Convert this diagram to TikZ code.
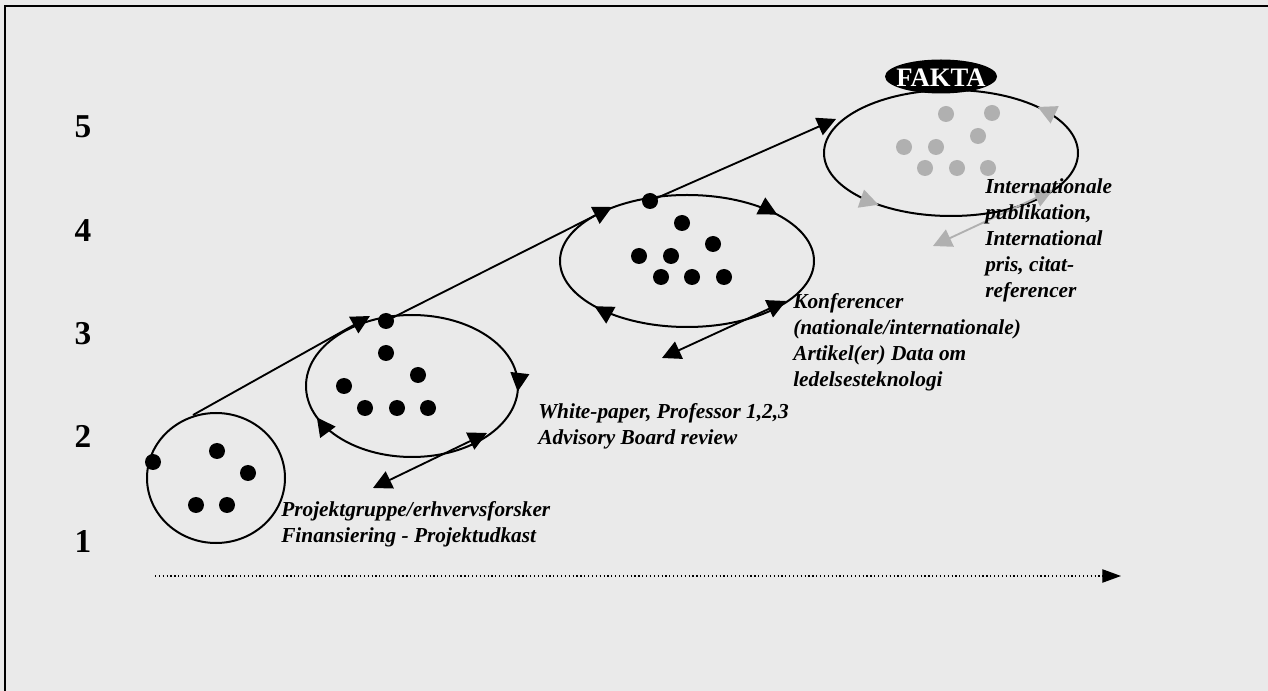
\documentclass[tikz,border=0pt]{standalone}
\usepackage{fontspec}
\setmainfont{Liberation Serif}
\usetikzlibrary{arrows.meta,shapes.geometric,decorations.markings}
\definecolor{bg}{HTML}{EAEAEA}
\definecolor{lgray}{HTML}{B0B0B0}
\begin{document}
\begin{tikzpicture}[x=0.75pt,y=-0.75pt,
  bigtri/.tip={Triangle[length=14pt,width=14pt]},
  ringline/.style={line width=1.5pt},
  connline/.style={line width=1.4pt,-bigtri},
  dblline/.style={line width=1.4pt,bigtri-bigtri},
  grayline/.style={line width=1.4pt,draw=lgray,{Triangle[length=14pt,width=14pt,color=lgray]}-{Triangle[length=14pt,width=14pt,color=lgray]}},
  bdot/.style={circle,fill=black,inner sep=0pt,minimum size=12pt},
  gdot/.style={circle,fill=lgray,inner sep=0pt,minimum size=12pt},
  lvl/.style={font=\fontsize{25}{28}\selectfont\bfseries,anchor=base,inner sep=0pt},
  lbl/.style={font=\fontsize{16}{19.5}\selectfont\bfseries\itshape,align=left,anchor=base west,inner sep=0pt},
]
% background and frame
\fill[bg] (0,0) rectangle (1268,691);
\useasboundingbox (0,0) rectangle (1268,691);
\draw[line width=1.5pt] (5,691) -- (5,6) -- (1268,6);

% level numbers
\node[lvl] (n5) at (83,138) {5};
\node[lvl] (n4) at (83,242) {4};
\node[lvl] (n3) at (83,345) {3};
\node[lvl] (n2) at (83,448) {2};
\node[lvl] (n1) at (83,552) {1};

% ring centres
\coordinate (e1) at (216,478);
\coordinate (e2) at (412,386);
\coordinate (e3) at (687,261);
\coordinate (e4) at (951,153);

% ring 1
\draw[ringline] (e1) ellipse [x radius=69, y radius=65];
\node[bdot] (a0) at (153,462) {};
\node[bdot] (a1) at (217,451) {};
\node[bdot] (a2) at (248,473) {};
\node[bdot] (a3) at (196,505) {};
\node[bdot] (a4) at (227,505) {};

% ring 2
\draw[ringline,postaction={decorate},decoration={markings,
  mark=at position 0.01 with {\arrow{bigtri}},
  mark=at position 0.44 with {\arrow{bigtri}}}]
  (e2) ellipse [x radius=106, y radius=71];
\node[bdot] (b0) at (386,321) {};
\node[bdot] (b1) at (386,353) {};
\node[bdot] (b2) at (418,375) {};
\node[bdot] (b3) at (344,386) {};
\node[bdot] (b4) at (365,408) {};
\node[bdot] (b5) at (397,408) {};
\node[bdot] (b6) at (428,408) {};

% ring 3
\draw[ringline,postaction={decorate},decoration={markings,
  mark=at position 0.404 with {\arrow{bigtri}},
  mark=at position 0.9 with {\arrow{bigtri}}}]
  (e3) ellipse [x radius=127, y radius=66];
\node[bdot] (c0) at (650,201) {};
\node[bdot] (c1) at (682,223) {};
\node[bdot] (c2) at (713,244) {};
\node[bdot] (c3) at (639,256) {};
\node[bdot] (c4) at (671,256) {};
\node[bdot] (c5) at (661,277) {};
\node[bdot] (c6) at (692,277) {};
\node[bdot] (c7) at (724,277) {};

% ring 4
\draw[ringline,postaction={decorate},decoration={markings,
  mark=at position 0.37 with {\arrowreversed[color=lgray]{bigtri}},
  mark=at position 0.895 with {\arrowreversed[color=lgray]{bigtri}}}]
  (e4) ellipse [x radius=127, y radius=63];
\node[gdot] (g1) at (946,114) {};
\node[gdot] (g2) at (992,113) {};
\node[gdot] (g3) at (978,136) {};
\node[gdot] (g4) at (904,147) {};
\node[gdot] (g5) at (936,147) {};
\node[gdot] (g6) at (925,168) {};
\node[gdot] (g7) at (957,168) {};
\node[gdot] (g8) at (988,168) {};

% FAKTA
\fill[black] (941,76.5) ellipse [x radius=56, y radius=17];
\node[inner sep=0pt,text=white,font=\fontsize{20}{24}\selectfont\bfseries] (fakta) at (941,78) {FAKTA};

% connectors between rings
\coordinate (s1) at (193,415);
\coordinate (t2) at (370,316);
\coordinate (t3) at (612,207);
\coordinate (t4) at (836,119);
\draw[connline] (s1) -- (t2);
\draw[connline] (b0.center) -- (t3);
\draw[connline] (c0.center) -- (t4);

% exit arrows
\coordinate (x2a) at (487,433);
\coordinate (x2b) at (373,488);
\coordinate (x3a) at (786,301);
\coordinate (x3b) at (662,358);
\coordinate (x4a) at (1053,190);
\coordinate (x4b) at (933,246);
\draw[dblline] (x2b) -- (x2a);
\draw[dblline] (x3b) -- (x3a);
\draw[grayline] (x4b) -- (x4a);

% time axis
\coordinate (ax0) at (155,576);
\coordinate (ax1) at (1121,576);
\draw[line width=0.9pt,dotted,-{Triangle[length=14pt,width=10pt]}] (ax0) -- (ax1);

% labels (anchored at baseline of last line)
\node[lbl] (l1) at (281,542) {Projektgruppe/erhvervsforsker\\Finansiering - Projektudkast};
\node[lbl] (l2) at (538,445) {White-paper, Professor 1,2,3\\Advisory Board review};
\node[lbl] (l3) at (793,387) {Konferencer\\(nationale/internationale)\\Artikel(er) Data om\\ledelsesteknologi};
\node[lbl] (l4) at (985,298) {Internationale\\publikation,\\International\\pris, citat-\\referencer};
\end{tikzpicture}
\end{document}
